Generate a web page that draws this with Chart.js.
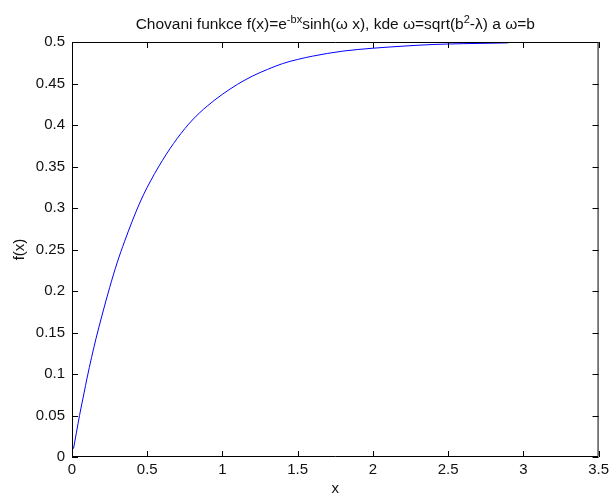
<!DOCTYPE html>
<html>
<head>
<meta charset="utf-8">
<script src="https://cdn.jsdelivr.net/npm/chart.js@4/dist/chart.umd.min.js"></script>
<style>
  html, body { margin: 0; padding: 0; background: #fff; }
  #wrap { width: 613px; height: 498px; }
</style>
</head>
<body>
<div id="wrap"><canvas id="curve" width="613" height="498"></canvas></div>
<script>
// sampled values of f(x) = e^(-bx) sinh(wx) with w = b
const xs = [0.01, 0.03, 0.05, 0.08, 0.1, 0.13, 0.16, 0.2, 0.25, 0.3, 0.35, 0.4, 0.45, 0.5, 0.6, 0.7, 0.8, 0.9, 1.0, 1.1, 1.2, 1.3, 1.4, 1.5, 1.6, 1.8, 2.0, 2.2, 2.4, 2.6, 2.8, 2.9];
const fx = [0.010, 0.030, 0.050, 0.077, 0.095, 0.120, 0.143, 0.171, 0.204, 0.234, 0.260, 0.284, 0.306, 0.325, 0.357, 0.384, 0.406, 0.423, 0.437, 0.449, 0.459, 0.467, 0.474, 0.479, 0.483, 0.489, 0.4925, 0.495, 0.497, 0.498, 0.4986, 0.499];

const xTicks = [0, 0.5, 1, 1.5, 2, 2.5, 3, 3.5];
const yTicks = [0, 0.05, 0.1, 0.15, 0.2, 0.25, 0.3, 0.35, 0.4, 0.45, 0.5];

const FONT = '"Liberation Sans", Arial, sans-serif';
const points = xs.map((x, i) => ({ x: x, y: fx[i] }));

// box, inward ticks on all four sides, title and axis labels
const frame = {
  id: 'frame',
  afterDraw(chart) {
    const { ctx, chartArea: a, scales } = chart;
    ctx.save();
    ctx.strokeStyle = '#000';
    ctx.lineWidth = 1;
    ctx.beginPath();
    ctx.rect(a.left + 0.5, a.top + 0.5, a.right - a.left - 1, a.bottom - a.top - 1);
    xTicks.forEach(v => {
      const px = Math.round(scales.x.getPixelForValue(v)) + 0.5;
      ctx.moveTo(px, a.bottom); ctx.lineTo(px, a.bottom - 6);
      ctx.moveTo(px, a.top); ctx.lineTo(px, a.top + 6);
    });
    yTicks.forEach(v => {
      const py = Math.round(scales.y.getPixelForValue(v)) + 0.5;
      ctx.moveTo(a.left, py); ctx.lineTo(a.left + 6, py);
      ctx.moveTo(a.right, py); ctx.lineTo(a.right - 6, py);
    });
    ctx.stroke();

    ctx.fillStyle = '#111';
    ctx.font = '15px ' + FONT;
    ctx.textAlign = 'center';
    ctx.textBaseline = 'alphabetic';
    const cx = (a.left + a.right) / 2;
    ctx.fillText('x', cx, 493);

    ctx.save();
    ctx.translate(24, (a.top + a.bottom) / 2);
    ctx.rotate(-Math.PI / 2);
    ctx.fillText('f(x)', 0, 0);
    ctx.restore();

    // title with superscripts
    const parts = [
      ['Chovani funkce f(x)=e', 0],
      ['-bx', 1],
      ['sinh(\u03c9 x), kde \u03c9=sqrt(b', 0],
      ['2', 1],
      ['-\u03bb) a \u03c9=b', 0]
    ];
    const big = '15.5px ' + FONT, small = '11px ' + FONT;
    let w = 0;
    parts.forEach(p => { ctx.font = p[1] ? small : big; w += ctx.measureText(p[0]).width; });
    let tx = cx - w / 2;
    ctx.textAlign = 'left';
    parts.forEach(p => {
      ctx.font = p[1] ? small : big;
      ctx.fillText(p[0], tx, p[1] ? 23 : 29);
      tx += ctx.measureText(p[0]).width;
    });
    ctx.restore();
  }
};

new Chart(document.getElementById('curve'), {
  type: 'line',
  data: {
    datasets: [{
      data: points,
      borderColor: '#0000ff',
      borderWidth: 1,
      pointRadius: 0,
      fill: false,
      cubicInterpolationMode: 'monotone'
    }]
  },
  options: {
    responsive: false,
    animation: false,
    devicePixelRatio: 1,
    layout: { padding: { left: 0, right: 13, top: 42, bottom: 0 } },
    plugins: { legend: { display: false }, title: { display: false }, tooltip: { enabled: false } },
    scales: {
      x: {
        type: 'linear',
        min: 0, max: 3.5,
        afterBuildTicks: s => { s.ticks = xTicks.map(v => ({ value: v })); },
        afterFit: s => { s.height = 41; },
        grid: { display: false, drawTicks: false },
        border: { display: false },
        ticks: {
          padding: 4,
          color: '#111',
          font: { family: FONT, size: 15 },
          maxRotation: 0,
          callback: v => String(v)
        }
      },
      y: {
        type: 'linear',
        min: 0, max: 0.5,
        afterBuildTicks: s => { s.ticks = yTicks.map(v => ({ value: v })); },
        afterFit: s => { s.width = 72; },
        grid: { display: false, drawTicks: false },
        border: { display: false },
        ticks: {
          padding: 7,
          color: '#111',
          font: { family: FONT, size: 15 },
          callback: v => String(+v.toFixed(2))
        }
      }
    }
  },
  plugins: [frame]
});
</script>
</body>
</html>
